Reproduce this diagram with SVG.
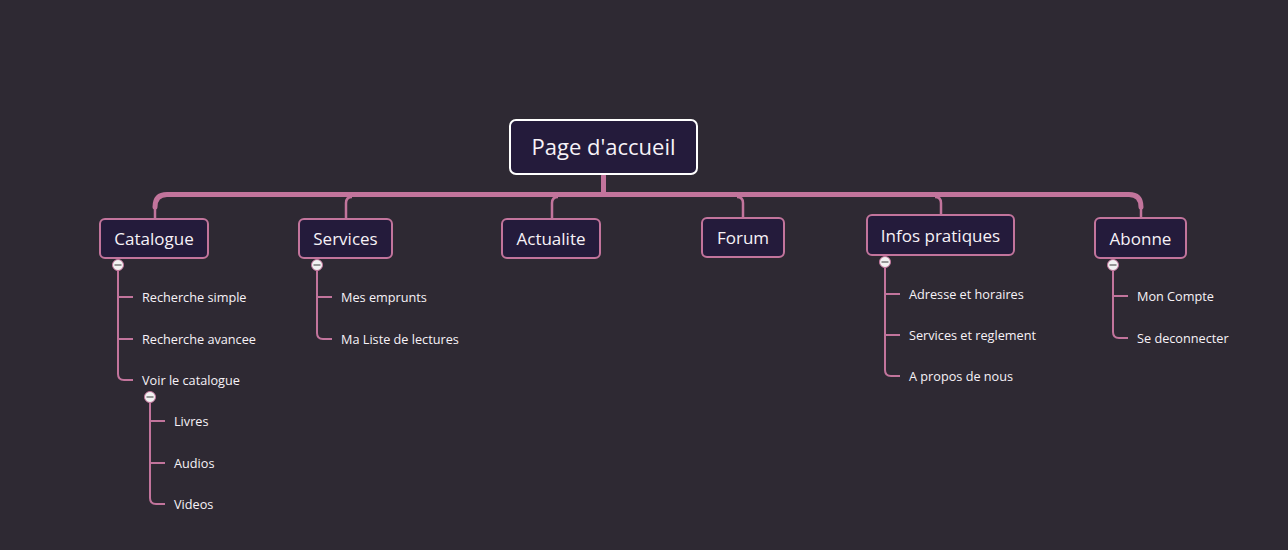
<svg xmlns="http://www.w3.org/2000/svg" width="1288" height="550" viewBox="0 0 1288 550">
<style>
.bg{fill:#2e2933}
.root rect{fill:#241b3b;stroke:#ffffff;stroke-width:2}
.main rect{fill:#241b3b;stroke:#c2749c;stroke-width:2}
text{font-family:"Open Sans","Noto Sans","Liberation Sans",sans-serif;fill:#f7f2f7}
.rt{font-size:22px;text-anchor:middle}
.mt{font-size:17px;text-anchor:middle}
.ct{font-size:12.7px}
.bus{fill:none;stroke:#c2749c;stroke-width:5;stroke-linecap:round}
.br{fill:none;stroke:#c2749c;stroke-width:2.5}
.cl{fill:none;stroke:#c2749c;stroke-width:2}
.tog circle{fill:#f2f2f2;stroke:#c2749c;stroke-width:1}
.tog line{stroke:#777;stroke-width:1.5}
</style>
<rect class="bg" x="0" y="0" width="1288" height="550"/>
<g id="connectors">
<path class="bus" d="M603.5,176 V194.5"/>
<path class="bus" d="M155,207 Q155,194.5 167,194.5 H1129 Q1141,194.5 1141,207"/>
<path class="br" d="M155,205 V219"/>
<path class="br" d="M1141,205 V218"/>
<path class="br" d="M346,219 V203 Q346,197 352,197"/>
<path class="br" d="M552,219 V203 Q552,197 558,197"/>
<path class="br" d="M743,218 V203 Q743,197 737,197"/>
<path class="br" d="M941,215 V203 Q941,197 935,197"/>
<path class="cl" d="M118,270 V374 Q118,380 124,380 H133 M118,297 H133 M118,339 H133"/>
<path class="cl" d="M150,402 V498 Q150,504 156,504 H165 M150,421 H165 M150,463 H165"/>
<path class="cl" d="M317,270 V333 Q317,339 323,339 H332 M317,297 H332"/>
<path class="cl" d="M885,267 V370 Q885,376 891,376 H900 M885,294 H900 M885,335 H900"/>
<path class="cl" d="M1113,270 V332 Q1113,338 1119,338 H1128 M1113,296 H1128"/>
</g>
<g id="root" class="root"><rect x="510" y="120" width="187" height="54" rx="6"/><text class="rt" x="603.5" y="155">Page d'accueil</text></g>
<g id="catalogue" class="main"><rect x="100" y="219" width="108" height="39" rx="5"/><text class="mt" x="154" y="245">Catalogue</text></g>
<g id="services" class="main"><rect x="299" y="219" width="93" height="39" rx="5"/><text class="mt" x="345.5" y="245">Services</text></g>
<g id="actualite" class="main"><rect x="502" y="219" width="98" height="39" rx="5"/><text class="mt" x="551" y="245">Actualite</text></g>
<g id="forum" class="main"><rect x="702" y="218" width="82" height="39" rx="5"/><text class="mt" x="743" y="244">Forum</text></g>
<g id="infos" class="main"><rect x="867" y="215" width="147" height="40" rx="5"/><text class="mt" x="940.5" y="242">Infos pratiques</text></g>
<g id="abonne" class="main"><rect x="1095" y="218" width="91" height="40" rx="5"/><text class="mt" x="1140.5" y="245">Abonne</text></g>
<g id="toggles" class="tog">
<g><circle cx="118" cy="265" r="5.5"/><line x1="114.5" y1="265" x2="121.5" y2="265"/></g>
<g><circle cx="317" cy="265" r="5.5"/><line x1="313.5" y1="265" x2="320.5" y2="265"/></g>
<g><circle cx="885" cy="262" r="5.5"/><line x1="881.5" y1="262" x2="888.5" y2="262"/></g>
<g><circle cx="1113" cy="265" r="5.5"/><line x1="1109.5" y1="265" x2="1116.5" y2="265"/></g>
<g><circle cx="150" cy="397" r="5.5"/><line x1="146.5" y1="397" x2="153.5" y2="397"/></g>
</g>
<g id="recherche-simple"><text class="ct" x="142" y="302">Recherche simple</text></g>
<g id="recherche-avancee"><text class="ct" x="142" y="344">Recherche avancee</text></g>
<g id="voir-catalogue"><text class="ct" x="142" y="385">Voir le catalogue</text></g>
<g id="livres"><text class="ct" x="174" y="426">Livres</text></g>
<g id="audios"><text class="ct" x="174" y="468">Audios</text></g>
<g id="videos"><text class="ct" x="174" y="509">Videos</text></g>
<g id="mes-emprunts"><text class="ct" x="341" y="302">Mes emprunts</text></g>
<g id="ma-liste"><text class="ct" x="341" y="344">Ma Liste de lectures</text></g>
<g id="adresse"><text class="ct" x="909" y="299">Adresse et horaires</text></g>
<g id="services-reglement"><text class="ct" x="909" y="340">Services et reglement</text></g>
<g id="a-propos"><text class="ct" x="909" y="381">A propos de nous</text></g>
<g id="mon-compte"><text class="ct" x="1137" y="301">Mon Compte</text></g>
<g id="se-deconnecter"><text class="ct" x="1137" y="343">Se deconnecter</text></g>
</svg>
